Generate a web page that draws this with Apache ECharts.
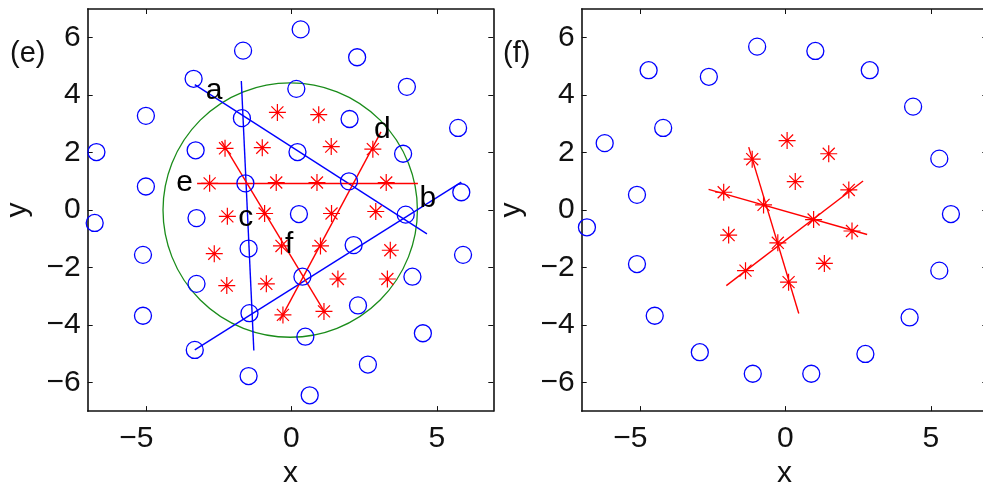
<!DOCTYPE html>
<html><head><meta charset="utf-8">
<script src="https://cdn.jsdelivr.net/npm/echarts@6/dist/echarts.min.js"></script>
<style>html,body{margin:0;padding:0;background:#fff;overflow:hidden;width:983px;height:494px}#c{width:1000px;height:494px}</style>
</head><body><div id="c"></div>
<script>
// ---------- data: panel (e) ----------
const circlesE = [
  [-6.70, 2.02], [-6.76, -0.45], [-5.00, 3.28], [-5.00, 0.82], [-3.36, 4.57],
  [-3.29, 2.08], [-3.26, -0.28], [-1.66, 5.55], [-1.70, 3.20], [-1.58, 0.93],
  [0.32, 6.29], [0.17, 4.22], [0.21, 2.02], [0.26, -0.14], [2.26, 5.32],
  [2.00, 3.17], [1.98, 1.00], [3.97, 4.29], [3.84, 1.96], [3.93, -0.16],
  [5.73, 2.86], [5.84, 0.62], [-5.10, -1.56], [-5.10, -3.68], [-3.26, -2.57],
  [-3.32, -4.87], [-1.47, -1.34], [-1.44, -3.59], [-1.47, -5.78], [0.38, -2.32],
  [0.48, -4.41], [0.63, -6.45], [2.14, -1.22], [2.29, -3.32], [2.63, -5.38],
  [4.16, -2.32], [4.52, -4.29], [5.90, -1.56]
];
const starsE = [
  [-0.48, 3.40], [0.94, 3.32], [-2.28, 2.15], [-1.00, 2.17], [1.37, 2.21],
  [2.80, 2.12], [-2.81, 0.93], [-0.52, 0.96], [0.88, 0.96], [3.26, 0.96],
  [-2.20, -0.22], [-0.92, -0.12], [1.38, -0.12], [2.90, -0.05], [-2.65, -1.52],
  [-0.34, -1.25], [1.00, -1.25], [3.40, -1.40], [-2.22, -2.63], [-0.86, -2.57],
  [1.60, -2.40], [3.30, -2.40], [-0.29, -3.65], [1.12, -3.53]
];
const blueLinesE = [
  [[-3.32, 4.37], [4.66, -0.83]],
  [[-1.72, 4.49], [-1.29, -4.89]],
  [[-3.32, -4.87], [5.84, 0.97]]
];
const redLinesE = [
  [[-3.24, 0.93], [4.35, 0.93]],
  [[-2.40, 2.40], [1.17, -3.60]],
  [[-0.40, -3.85], [3.08, 2.72]]
];
const ringE = [[-0.04, 0.0, 4.4]];           // centre x, centre y, radius
const lettersE = [
  ['a', -2.66, 4.15], ['b', 4.69, 0.38], ['c', -1.57, -0.26],
  ['d', 3.13, 2.79], ['e', -3.67, 0.94], ['f', -0.08, -1.22]
];
// ---------- data: panel (f) ----------
const circlesF = [
  [-6.82, -0.60], [-6.21, 2.33], [-5.10, 0.53], [-4.70, 4.87], [-4.20, 2.86],
  [-2.63, 4.64], [-0.97, 5.69], [1.03, 5.54], [2.90, 4.87], [4.39, 3.60],
  [5.29, 1.79], [5.69, -0.14], [-5.10, -1.88], [-4.49, -3.68], [-2.94, -4.95],
  [-1.12, -5.70], [0.89, -5.70], [2.75, -5.01], [4.27, -3.74], [5.29, -2.11]
];
const starsF = [
  [0.06, 2.42], [1.49, 1.96], [-1.14, 1.77], [0.34, 0.99], [-2.12, 0.62],
  [2.18, 0.70], [-0.75, 0.18], [0.97, -0.33], [-1.95, -0.87], [2.29, -0.73],
  [-0.26, -1.14], [1.34, -1.86], [-1.37, -2.11], [0.11, -2.51]
];
const redLinesF = [
  [[-1.26, 2.19], [0.46, -3.60]],
  [[-2.64, 0.72], [2.81, -0.85]],
  [[-2.03, -2.63], [2.67, 1.01]]
];
const xTicks = [-5, 0, 5];
const yTicks = [-6, -4, -2, 0, 2, 4, 6];
const panelTitles = ['(e)', '(f)'];

// ---------- styling ----------
const FONT = '"Liberation Sans", Arial, sans-serif';
const BLUE = '#0000ff', RED = '#ff0000', GREEN = '#1a8c1a', INK = '#111';
const STAR = 'path://M0 8L16 8M8 0L8 16M2.34 2.34L13.66 13.66M2.34 13.66L13.66 2.34';
const minus = v => (v < 0 ? '\u2212' + (-v) : '' + v);

function xAx(gi, pos) {
  const bottom = pos === 'bottom';
  return {
    type: 'value', gridIndex: gi, position: pos, min: -7, max: 6.94,
    axisLine: { show: true, onZero: false, lineStyle: { color: INK, width: 1.6 } },
    axisTick: { show: true, inside: true, length: 5, customValues: xTicks, lineStyle: { color: INK, width: 1 } },
    axisLabel: {
      show: bottom, customValues: xTicks, margin: 13, color: INK, fontSize: 30, fontFamily: FONT,
      formatter: v => (v < 0 ? '{n|' + minus(v) + '}' : '{p|' + v + '}'),
      rich: {
        n: { fontSize: 30, fontFamily: FONT, color: INK, padding: [0, 19, 0, 0] },
        p: { fontSize: 30, fontFamily: FONT, color: INK }
      }
    },
    splitLine: { show: false },
    name: bottom ? 'x' : '', nameLocation: 'middle', nameGap: 46,
    nameTextStyle: { fontSize: 30, fontFamily: FONT, color: INK }
  };
}
function yAx(gi, pos) {
  const left = pos === 'left';
  return {
    type: 'value', gridIndex: gi, position: pos, min: -7, max: 7,
    axisLine: { show: true, onZero: false, lineStyle: { color: INK, width: 1.6 } },
    axisTick: { show: true, inside: true, length: 5, customValues: yTicks, lineStyle: { color: INK, width: 1 } },
    axisLabel: { show: left, customValues: yTicks, margin: 7, color: INK, fontSize: 30, fontFamily: FONT, formatter: minus },
    splitLine: { show: false },
    name: left ? 'y' : '', nameLocation: 'middle', nameGap: 55,
    nameTextStyle: { fontSize: 30, fontFamily: FONT, color: INK }
  };
}
const circleSeries = (d, ax) => ({
  type: 'scatter', xAxisIndex: ax, yAxisIndex: ax, data: d, symbol: 'circle', symbolSize: 17,
  itemStyle: { color: 'rgba(0,0,0,0)', borderColor: BLUE, borderWidth: 1.3, opacity: 1 }, silent: true, z: 3
});
const starSeries = (d, ax) => ({
  type: 'scatter', xAxisIndex: ax, yAxisIndex: ax, data: d, symbol: STAR, symbolSize: 17,
  itemStyle: { color: 'rgba(0,0,0,0)', borderColor: RED, borderWidth: 1.2, opacity: 1 }, silent: true, z: 3
});
const lineSeries = (segs, ax, col) => ({
  type: 'lines', coordinateSystem: 'cartesian2d', xAxisIndex: ax, yAxisIndex: ax,
  data: segs.map(c => ({ coords: c, lineStyle: { color: col } })),
  lineStyle: { color: col, width: 1.4, opacity: 1 }, silent: true, z: 2
});

const chart = echarts.init(document.getElementById('c'), null, { renderer: 'canvas' });
chart.setOption({
  animation: false,
  backgroundColor: '#fff',
  title: [
    { text: panelTitles[0], left: 10, top: 39, padding: 0, textStyle: { fontSize: 29, fontWeight: 'normal', fontFamily: FONT, color: INK } },
    { text: panelTitles[1], left: 503, top: 39, padding: 0, textStyle: { fontSize: 29, fontWeight: 'normal', fontFamily: FONT, color: INK } }
  ],
  grid: [
    { left: 87.7, top: 9, width: 405.6, height: 406.4, containLabel: false },
    { left: 581.7, top: 9, width: 405.6, height: 406.4, containLabel: false }
  ],
  xAxis: [xAx(0, 'bottom'), xAx(0, 'top'), xAx(1, 'bottom'), xAx(1, 'top')],
  yAxis: [yAx(0, 'left'), yAx(0, 'right'), yAx(1, 'left'), yAx(1, 'right')],
  series: [
    {
      type: 'custom', xAxisIndex: 0, yAxisIndex: 0, data: ringE, silent: true, z: 1,
      renderItem: (params, api) => {
        const c = api.coord([api.value(0), api.value(1)]);
        const s = api.size([api.value(2), api.value(2)]);
        return { type: 'circle', shape: { cx: c[0], cy: c[1], r: (s[0] + s[1]) / 2 },
                 style: { fill: 'none', stroke: GREEN, lineWidth: 1.3 } };
      }
    },
    lineSeries(blueLinesE, 0, BLUE),
    lineSeries(redLinesE, 0, RED),
    circleSeries(circlesE, 0),
    starSeries(starsE, 0),
    {
      type: 'scatter', xAxisIndex: 0, yAxisIndex: 0, symbol: 'circle', symbolSize: 1, silent: true, z: 5,
      itemStyle: { color: 'rgba(0,0,0,0)', opacity: 1 },
      data: lettersE.map(t => ({ name: t[0], value: [t[1], t[2]] })),
      label: { show: true, position: 'inside', formatter: '{b}', fontSize: 30, fontFamily: FONT, color: '#000', opacity: 1 }
    },
    lineSeries(redLinesF, 2, RED),
    circleSeries(circlesF, 2),
    starSeries(starsF, 2)
  ]
});
</script>
</body></html>
